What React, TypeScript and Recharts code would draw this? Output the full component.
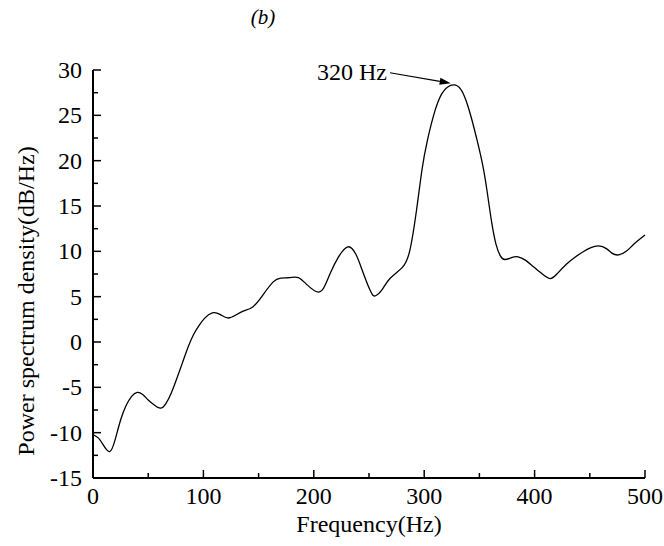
import React from "react";
import { LineChart, Line, XAxis, YAxis, ReferenceLine } from "recharts";

const frequency = [
  0, 5, 9, 15, 20, 25, 30, 35, 40, 45, 50, 55, 61, 66, 71, 76, 81, 86, 91, 96, 101, 108, 115, 122, 129, 136,
  145, 154, 163, 170, 178, 186, 194, 204, 210, 215, 222, 231, 238, 243, 251, 256, 262, 269, 280, 287, 293, 298,
  303, 310, 316, 321, 327, 333, 338, 343, 348, 353, 357, 361, 365, 369, 373, 379, 385, 392, 399, 406, 414, 421,
  429, 436, 444, 451, 458, 465, 470, 476, 483, 490, 500,
];
const psd = [
  -10.2, -10.6, -11.3, -12.1, -10.8, -8.6, -7.0, -6.0, -5.55, -5.8, -6.4, -6.9, -7.3, -6.8, -5.6, -4.0, -2.3,
  -0.6, 0.8, 1.8, 2.6, 3.2, 3.05, 2.65, 2.95, 3.4, 3.9, 5.2, 6.6, 7.05, 7.1, 7.1, 6.3, 5.5, 6.2, 7.6, 9.3, 10.5,
  9.7, 8.2, 5.7, 5.1, 5.8, 7.0, 8.2, 10.1, 14.5, 19.0, 22.3, 25.6, 27.4, 28.1, 28.35, 27.9, 26.6, 24.6, 22.2, 19.5,
  16.6, 13.3, 10.8, 9.5, 9.1, 9.3, 9.4, 9.0, 8.3, 7.6, 7.0, 7.6, 8.6, 9.3, 9.95, 10.4, 10.6, 10.3, 9.8, 9.6, 10.0,
  10.8, 11.8,
];

const xTicks = [0, 50, 100, 150, 200, 250, 300, 350, 400, 450, 500];
const yTicks = [-15, -12.5, -10, -7.5, -5, -2.5, 0, 2.5, 5, 7.5, 10, 12.5, 15, 17.5, 20, 22.5, 25, 27.5, 30];

// arrow annotation: text start point -> peak
const peakLabel = "320 Hz";
const arrowFrom = { x: 269, y: 29.7 };
const arrowTo = { x: 324, y: 28.55 };

const data = frequency.map((f, i) => ({ f, v: psd[i] }));

const FONT = '"Liberation Serif", serif';
const FS = 24;

function XTick(props: any) {
  const { x, y, payload } = props;
  const major = payload.value % 100 === 0;
  return (
    <g>
      <line x1={x} x2={x} y1={y} y2={y - (major ? 8 : 5)} stroke="#000" strokeWidth={1.5} />
      {major && (
        <text x={x} y={y + 26} textAnchor="middle" fontFamily={FONT} fontSize={FS} fill="#000">
          {payload.value}
        </text>
      )}
    </g>
  );
}

function YTick(props: any) {
  const { x, y, payload } = props;
  const major = payload.value % 5 === 0;
  return (
    <g>
      <line x1={x} x2={x + (major ? 8 : 5)} y1={y} y2={y} stroke="#000" strokeWidth={1.5} />
      {major && (
        <text x={x - 11} y={y + 8} textAnchor="end" fontFamily={FONT} fontSize={FS} fill="#000">
          {payload.value}
        </text>
      )}
    </g>
  );
}

function Arrow(props: any) {
  const { x1, y1, x2, y2 } = props;
  const a = Math.atan2(y2 - y1, x2 - x1);
  const len = 11;
  const w = 3.5;
  const bx = x2 - len * Math.cos(a);
  const by = y2 - len * Math.sin(a);
  const px = -Math.sin(a) * w;
  const py = Math.cos(a) * w;
  return (
    <g>
      <line x1={x1} y1={y1} x2={bx} y2={by} stroke="#000" strokeWidth={1.2} />
      <polygon points={`${x2},${y2} ${bx + px},${by + py} ${bx - px},${by - py}`} fill="#000" />
      <text x={x1 - 3} y={y1 + 7} textAnchor="end" fontFamily={FONT} fontSize={FS} fill="#000">
        {peakLabel}
      </text>
    </g>
  );
}

export default function App() {
  return (
    <div style={{ position: "relative", width: 664, height: 546, background: "#fff" }}>
      <style>{`body{margin:0}`}</style>
      <div
        style={{
          position: "absolute",
          left: 0,
          width: 526,
          top: 5,
          textAlign: "center",
          fontFamily: FONT,
          fontStyle: "italic",
          fontSize: 21,
        }}
      >
        (b)
      </div>
      <LineChart width={664} height={546} data={data} margin={{ top: 70, right: 19, bottom: 0, left: 0 }}>
        <XAxis
          dataKey="f"
          type="number"
          domain={[0, 500]}
          ticks={xTicks}
          interval={0}
          height={68}
          tickSize={0}
          tickMargin={0}
          tickLine={false}
          axisLine={{ stroke: "#000", strokeWidth: 2 }}
          tick={<XTick />}
          label={{
            content: (p: any) => {
              const vb = p.viewBox;
              return (
                <text x={vb.x + vb.width / 2} y={vb.y + 54} textAnchor="middle" fontFamily={FONT} fontSize={24} fill="#000">
                  Frequency(Hz)
                </text>
              );
            },
          }}
        />
        <YAxis
          type="number"
          domain={[-15, 30]}
          ticks={yTicks}
          interval={0}
          width={93}
          tickSize={0}
          tickMargin={0}
          tickLine={false}
          axisLine={{ stroke: "#000", strokeWidth: 2 }}
          tick={<YTick />}
          label={{
            content: (p: any) => {
              const vb = p.viewBox;
              const cx = vb.x + 26;
              const cy = vb.y + vb.height / 2 + 27;
              return (
                <text
                  x={cx}
                  y={cy}
                  transform={`rotate(-90 ${cx} ${cy})`}
                  textAnchor="middle"
                  dominantBaseline="central"
                  fontFamily={FONT}
                  fontSize={FS}
                  fill="#000"
                >
                  Power spectrum density(dB/Hz)
                </text>
              );
            },
          }}
        />
        <Line
          type="natural"
          dataKey="v"
          stroke="#000"
          strokeWidth={1.3}
          dot={false}
          activeDot={false}
          isAnimationActive={false}
        />
        <ReferenceLine segment={[arrowFrom, arrowTo]} shape={<Arrow />} />
      </LineChart>
    </div>
  );
}
